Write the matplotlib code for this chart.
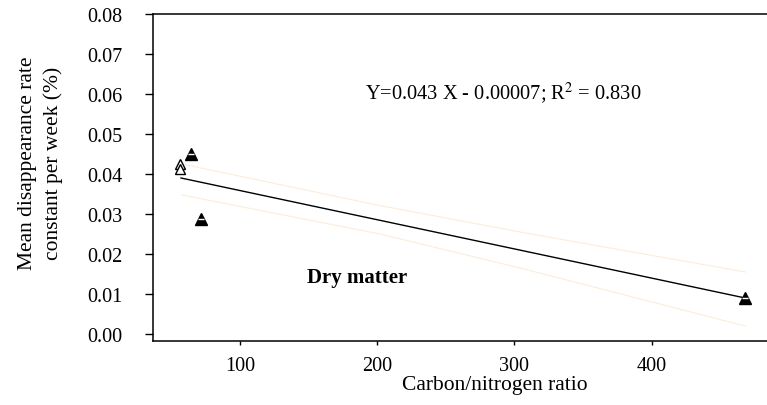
import matplotlib
matplotlib.use("Agg")
import matplotlib.pyplot as plt

# C/N ratio vs mean disappearance rate (dry matter)
cn_filled = [64.3, 71.6, 468.1]
rate_filled = [0.0449, 0.02875, 0.0090]
cn_open = [56.6, 56.6]
rate_open = [0.0426, 0.0412]

# fitted line end points
fit_x = [57.0, 468.1]
fit_y = [0.0390, 0.0090]

# confidence band
band_x = [57.7, 202.0, 304.1, 468.1]
band_upper = [0.0425, 0.0321, 0.0255, 0.0155]
band_lower = [0.03475, 0.0250, 0.0165, 0.0020]

yticks = [0.00, 0.01, 0.02, 0.03, 0.04, 0.05, 0.06, 0.07, 0.08]
xticks = [100, 200, 300, 400]

plt.rcParams['font.family'] = ['Liberation Serif', 'DejaVu Serif']

fig = plt.figure(figsize=(7.67, 4.06), dpi=100)
ax = fig.add_axes([153/767, 64/406, 614/767, 327/406])

# confidence band lines (very faint)
ax.plot(band_x, band_upper, color='#fcecdc', lw=0.8)
ax.plot(band_x, band_lower, color='#fcecdc', lw=0.8)
# regression line
ax.plot(fit_x, fit_y, color='black', lw=1.0)

ax.plot(cn_open, rate_open, linestyle='none', marker='^', ms=7,
        mfc='white', mec='black', mew=1.0)
ax.plot(cn_filled, rate_filled, linestyle='none', marker='^', ms=8,
        mfc='black', mec='black')
# small white bar inside the filled triangles
ax.plot(cn_filled, rate_filled, linestyle='none', marker='_', ms=4,
        mec='white', mew=1.0)

ax.set_xlim(36.6, 484)
ax.set_ylim(-0.00175, 0.08)
ax.set_xticks(xticks)
ax.set_yticks(yticks)
ax.set_yticklabels(['%.2f' % v for v in yticks])

ax.spines['right'].set_visible(False)
for s in ['left', 'bottom', 'top']:
    ax.spines[s].set_linewidth(1.1)
ax.tick_params(axis='y', length=6, width=1.0, labelsize=14.5, pad=16)
ax.tick_params(axis='x', length=3, width=1.0, labelsize=14.5, pad=8)

ax.text((365-153)/614, (342-93)/327, 'Y=0.043 X - 0.00007; R$^2$ = 0.830',
        transform=ax.transAxes, fontsize=14.7, ha='left', va='center',
        math_fontfamily='stix')
ax.text((307-153)/614, (342-278)/327, 'Dry matter', transform=ax.transAxes,
        fontsize=15, fontweight='bold', ha='left', va='center')

fig.text(40.5/767, 1 - 163/406, 'Mean disappearance rate\nconstant per week (%)',
         rotation=90, ha='center', va='center', fontsize=15.5, linespacing=1.45)
fig.text(495/767, 1 - 390/406, 'Carbon/nitrogen ratio',
         ha='center', va='baseline', fontsize=15.5)

fig.savefig('out.png', dpi=100)
